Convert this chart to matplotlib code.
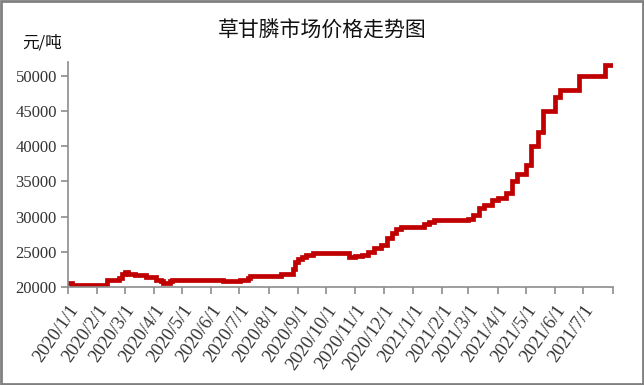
import matplotlib
matplotlib.use("Agg")
import matplotlib.pyplot as plt
from matplotlib.patches import Rectangle
import numpy as np

# price change dates and price (yuan/ton), drawn as steps
dates = ["2020-01-01", "2020-01-05", "2020-02-11", "2020-02-24", "2020-02-27",
         "2020-03-01", "2020-03-05", "2020-03-12", "2020-03-24", "2020-04-03",
         "2020-04-09", "2020-04-11", "2020-04-18", "2020-04-20", "2020-06-14",
         "2020-07-02", "2020-07-10", "2020-07-12", "2020-08-14", "2020-08-27",
         "2020-08-29", "2020-09-01", "2020-09-05", "2020-09-10", "2020-09-17",
         "2020-10-25", "2020-11-01", "2020-11-08", "2020-11-14", "2020-11-21",
         "2020-11-28", "2020-12-05", "2020-12-10", "2020-12-14", "2020-12-19",
         "2021-01-13", "2021-01-18", "2021-01-24", "2021-03-01", "2021-03-06",
         "2021-03-12", "2021-03-18", "2021-03-26", "2021-04-01", "2021-04-10",
         "2021-04-16", "2021-04-22", "2021-05-01", "2021-05-06", "2021-05-14",
         "2021-05-19", "2021-06-01", "2021-06-06", "2021-06-26", "2021-07-24",
         "2021-07-31"]
prices = [20500, 20300, 21000, 21300, 21800,
          22200, 21900, 21650, 21400, 21050,
          20800, 20600, 20800, 21000, 20850,
          21050, 21300, 21600, 21850, 22500,
          23500, 24000, 24300, 24600, 24900,
          24200, 24400, 24600, 25000, 25500,
          25900, 27000, 27700, 28300, 28550,
          29000, 29300, 29500, 29700, 30200,
          31200, 31600, 32300, 32700, 33400,
          35000, 36000, 37300, 40000, 42000,
          45000, 47000, 48000, 50000, 51500,
          51500]

tick_dates = ["2020-01-01", "2020-02-01", "2020-03-01", "2020-04-01", "2020-05-01",
              "2020-06-01", "2020-07-01", "2020-08-01", "2020-09-01", "2020-10-01",
              "2020-11-01", "2020-12-01", "2021-01-01", "2021-02-01", "2021-03-01",
              "2021-04-01", "2021-05-01", "2021-06-01", "2021-07-01", "2021-08-01"]
tick_labels = ["2020/1/1", "2020/2/1", "2020/3/1", "2020/4/1", "2020/5/1",
               "2020/6/1", "2020/7/1", "2020/8/1", "2020/9/1", "2020/10/1",
               "2020/11/1", "2020/12/1", "2021/1/1", "2021/2/1", "2021/3/1",
               "2021/4/1", "2021/5/1", "2021/6/1", "2021/7/1", ""]
y_ticks = [20000, 25000, 30000, 35000, 40000, 45000, 50000]

x = np.array(dates, dtype="datetime64[D]")
xt = np.array(tick_dates, dtype="datetime64[D]")

plt.rcParams['font.family'] = ['Liberation Serif', 'Noto Sans CJK SC']

fig = plt.figure(figsize=(6.44, 3.85), dpi=100)
ax = fig.add_axes([0.1056, 0.2545, 0.8455, 0.585])

ax.plot(x, prices, drawstyle="steps-post", color="#C00000", linewidth=3.4,
        solid_joinstyle="miter")

ax.set_xlim(xt[0], xt[-1])
ax.set_ylim(20000, 52000)
ax.set_xticks(xt)
ax.set_xticklabels(tick_labels, rotation=55, ha="right", va="top",
                   rotation_mode="anchor", fontsize=13.2, color="#333333")
ax.set_yticks(y_ticks)
ax.set_yticklabels([str(v) for v in y_ticks], fontsize=12, color="#333333")

for s in ["top", "right"]:
    ax.spines[s].set_visible(False)
for s in ["left", "bottom"]:
    ax.spines[s].set_color("#8c8c8c")
    ax.spines[s].set_linewidth(1.2)
ax.tick_params(axis="both", direction="out", length=5, width=1.2, color="#8c8c8c")
ax.tick_params(axis="x", pad=6)
ax.tick_params(axis="y", pad=3)

fig.text(0.5, 0.92, "草甘膦市场价格走势图", ha="center", va="center",
         fontsize=15, family=["Noto Sans CJK SC"], weight="medium", color="#111111")
fig.text(0.066, 0.888, "元/吨", ha="center", va="center",
         fontsize=12, family=["Noto Sans CJK SC"], color="#111111")

fig.patches.append(Rectangle((0.002, 0.003), 0.996, 0.994, transform=fig.transFigure,
                             fill=False, edgecolor="#808080", linewidth=2))

fig.savefig("out.png", dpi=100)
